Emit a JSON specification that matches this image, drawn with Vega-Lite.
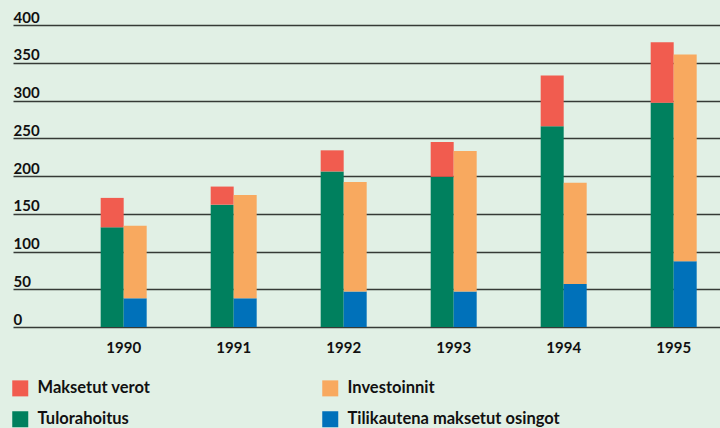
{
  "$schema": "https://vega.github.io/schema/vega-lite/v6.json",
  "autosize": {"type": "none"},
  "width": 707,
  "height": 302,
  "padding": {"left": 13, "top": 25, "right": 0, "bottom": 101},
  "background": "#e1f0e5",
  "config": {
    "view": {"stroke": null},
    "font": "Lato"
  },
  "data": {
    "values": [
      {"year": "1990", "series": "Tulorahoitus", "group": "A", "order": 1, "value": 132},
      {"year": "1990", "series": "Maksetut verot", "group": "A", "order": 2, "value": 39},
      {"year": "1990", "series": "Tilikautena maksetut osingot", "group": "B", "order": 1, "value": 38},
      {"year": "1990", "series": "Investoinnit", "group": "B", "order": 2, "value": 96},
      {"year": "1991", "series": "Tulorahoitus", "group": "A", "order": 1, "value": 162},
      {"year": "1991", "series": "Maksetut verot", "group": "A", "order": 2, "value": 24},
      {"year": "1991", "series": "Tilikautena maksetut osingot", "group": "B", "order": 1, "value": 38},
      {"year": "1991", "series": "Investoinnit", "group": "B", "order": 2, "value": 137},
      {"year": "1992", "series": "Tulorahoitus", "group": "A", "order": 1, "value": 206},
      {"year": "1992", "series": "Maksetut verot", "group": "A", "order": 2, "value": 28},
      {"year": "1992", "series": "Tilikautena maksetut osingot", "group": "B", "order": 1, "value": 47},
      {"year": "1992", "series": "Investoinnit", "group": "B", "order": 2, "value": 145},
      {"year": "1993", "series": "Tulorahoitus", "group": "A", "order": 1, "value": 199},
      {"year": "1993", "series": "Maksetut verot", "group": "A", "order": 2, "value": 46},
      {"year": "1993", "series": "Tilikautena maksetut osingot", "group": "B", "order": 1, "value": 47},
      {"year": "1993", "series": "Investoinnit", "group": "B", "order": 2, "value": 186},
      {"year": "1994", "series": "Tulorahoitus", "group": "A", "order": 1, "value": 266},
      {"year": "1994", "series": "Maksetut verot", "group": "A", "order": 2, "value": 67},
      {"year": "1994", "series": "Tilikautena maksetut osingot", "group": "B", "order": 1, "value": 57},
      {"year": "1994", "series": "Investoinnit", "group": "B", "order": 2, "value": 134},
      {"year": "1995", "series": "Tulorahoitus", "group": "A", "order": 1, "value": 297},
      {"year": "1995", "series": "Maksetut verot", "group": "A", "order": 2, "value": 80},
      {"year": "1995", "series": "Tilikautena maksetut osingot", "group": "B", "order": 1, "value": 87},
      {"year": "1995", "series": "Investoinnit", "group": "B", "order": 2, "value": 274}
    ]
  },
  "mark": {"type": "bar"},
  "encoding": {
    "x": {
      "field": "year",
      "type": "ordinal",
      "scale": {"paddingInner": 0.5818, "paddingOuter": 0.5045, "align": 0.79},
      "axis": {
        "title": null,
        "domain": false,
        "ticks": false,
        "grid": false,
        "labelAngle": 0,
        "labelFont": "Lato",
        "labelFontWeight": "bold",
        "labelFontSize": 15,
        "labelColor": "#111111",
        "labelPadding": 13
      }
    },
    "xOffset": {
      "field": "group",
      "type": "nominal",
      "scale": {"domain": ["A", "B"], "paddingInner": 0, "paddingOuter": 0}
    },
    "y": {
      "field": "value",
      "type": "quantitative",
      "stack": "zero",
      "scale": {"domain": [0, 400], "nice": false},
      "axis": {
        "title": null,
        "domain": false,
        "ticks": false,
        "tickSize": 0,
        "values": [0, 50, 100, 150, 200, 250, 300, 350, 400],
        "grid": true,
        "gridColor": "#363a36",
        "gridWidth": 1.6,
        "gridOpacity": 1,
        "labelAlign": "left",
        "labelBaseline": "alphabetic",
        "labelOffset": -3,
        "labelPadding": 0,
        "labelFlush": false,
        "labelOverlap": false,
        "labelFont": "Lato",
        "labelFontWeight": "bold",
        "labelFontSize": 15,
        "labelColor": "#111111"
      }
    },
    "color": {
      "field": "series",
      "type": "nominal",
      "scale": {
        "domain": ["Maksetut verot", "Investoinnit", "Tulorahoitus", "Tilikautena maksetut osingot"],
        "range": ["#f15c4f", "#f8a95f", "#00805e", "#0071ba"]
      },
      "legend": {
        "title": null,
        "orient": "none",
        "legendX": -1,
        "legendY": 355,
        "direction": "horizontal",
        "columns": 2,
        "columnPadding": 171,
        "rowPadding": 14,
        "symbolType": "square",
        "symbolSize": 256,
        "symbolStrokeWidth": 0,
        "symbolOpacity": 1,
        "labelOffset": 9,
        "labelFont": "Lato",
        "labelFontWeight": "bold",
        "labelFontSize": 16.5,
        "labelColor": "#111111",
        "labelLimit": 400
      }
    },
    "order": {"field": "order", "type": "quantitative"}
  }
}
